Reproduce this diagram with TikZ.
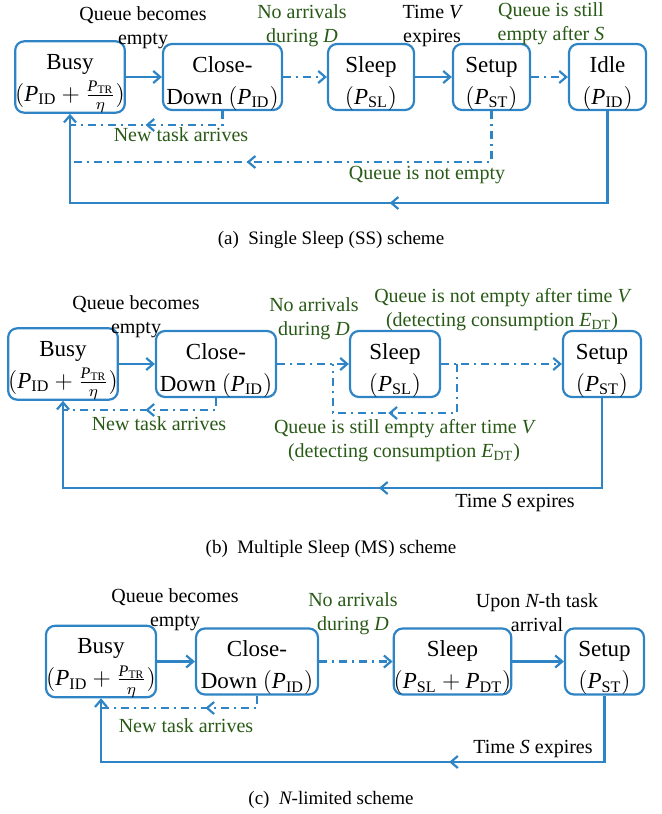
\documentclass[tikz,border=0pt]{standalone}
\usepackage{fontspec}
\setmainfont{Liberation Serif}
\usetikzlibrary{arrows.meta,decorations.markings}
\definecolor{lblue}{RGB}{46,132,196}
\definecolor{dgreen}{RGB}{40,90,22}
\newcommand\Pw[1]{\mathit{P}_{\mathrm{#1}}}
\newcommand\mv[1]{$\mathit{#1}$}
\newcommand\bst{\rule{0pt}{14pt}}
\tikzset{
  box/.style={draw=lblue, line width=1.1pt, rounded corners=4.5pt, align=center,
    inner sep=0pt, font=\fontsize{11.5}{16}\selectfont, minimum height=31pt},
  lbl/.style={align=center, font=\fontsize{10}{12}\selectfont, inner sep=0pt},
  glbl/.style={lbl, text=dgreen},
  captxt/.style={font=\fontsize{9.5}{11}\selectfont, inner sep=0pt},
  endarr/.style={-{Straight Barb[length=3.5pt,width=6pt]}},
  sol/.style={draw=lblue, line width=1.1pt},
  dd/.style={draw=lblue, line width=1.1pt, dash pattern=on 4pt off 2.5pt on 1pt off 2.5pt},
  marr/.style={postaction={decorate, decoration={markings,
    mark=at position #1 with {\arrow[lblue,line width=1.1pt]{Straight Barb[length=3.5pt,width=6pt]}}}}},
}
\begin{document}
\begin{tikzpicture}[x=0.5pt,y=-0.5pt]
\useasboundingbox (0,0) rectangle (662,814);

% ---------------- (a) ----------------
\node[box, minimum width=53pt]   (a1) at (70,77)    {\bst Busy\\$(\Pw{ID}+\frac{\Pw{TR}}{\eta})$};
\node[box, minimum width=59.5pt] (a2) at (222.5,77) {\bst Close-\\Down $(\Pw{ID})$};
\node[box, minimum width=43pt]   (a3) at (371,77)   {\bst Sleep\\$(\Pw{SL})$};
\node[box, minimum width=38.5pt] (a4) at (491.5,77) {\bst Setup\\$(\Pw{ST})$};
\node[box, minimum width=38.5pt] (a5) at (607.5,77) {\bst Idle\\$(\Pw{ID})$};

\node[lbl]  (la1) at (143,28) {Queue becomes\\empty};
\node[glbl] (la2) at (302,26)   {No arrivals\\during \mv{D}};
\node[lbl]  (la3) at (432,26.5) {Time \mv{V}\\expires};
\node[glbl] (la4) at (551,23.5) {Queue is still\\empty after \mv{S}};
\node[glbl] (la5) at (181,135)  {New task arrives};
\node[glbl] (la6) at (427,175)  {Queue is not empty};

\coordinate (ya1) at (0,125);
\coordinate (ya2) at (0,162);
\coordinate (ya3) at (0,203);

\draw[sol, endarr] (a1) -- (a2);
\draw[dd, endarr]  (a2) -- (a3);
\draw[sol, endarr] (a3) -- (a4);
\draw[dd, endarr]  (a4) -- (a5);
\draw[dd, marr=0.546] (a2.south) |- (a1.south |- ya1);
\draw[dd, marr=0.626] (a4.south) |- (a1.south |- ya2);
\draw[sol, endarr, marr=0.431] (a5.south) -- (a5.south |- ya3) -- (a1.south |- ya3) -- (a1.south);

\node[captxt] (ca) at (331,240) {(a)\ \ Single Sleep (SS) scheme};

% ---------------- (b) ----------------
\node[box, minimum width=54pt] (b1) at (63,364)  {\bst Busy\\$(\Pw{ID}+\frac{\Pw{TR}}{\eta})$};
\node[box, minimum width=60pt] (b2) at (216,364) {\bst Close-\\Down $(\Pw{ID})$};
\node[box, minimum width=45pt] (b3) at (395,364) {\bst Sleep\\$(\Pw{SL})$};
\node[box, minimum width=39pt] (b4) at (602,364) {\bst Setup\\$(\Pw{ST})$};

\node[lbl]  (lb1) at (136,317) {Queue becomes\\empty};
\node[glbl] (lb2) at (314,319)   {No arrivals\\during \mv{D}};
\node[glbl] (lb3) at (502,309.5) {Queue is not empty after time \mv{V}\\(detecting consumption $\mathit{E}_{\mathrm{DT}}$)};
\node[glbl] (lb4) at (159,424)   {New task arrives};
\node[glbl] (lb5) at (404,440.5) {Queue is still empty after time \mv{V}\\(detecting consumption $\mathit{E}_{\mathrm{DT}}$)};
\node[lbl]  (lb6) at (515,503)   {Time \mv{S} expires};

\coordinate (b3r) at (457,364);
\coordinate (b2r) at (333,364);
\coordinate (yb1) at (0,410);
\coordinate (yb2) at (0,413);
\coordinate (yb3) at (0,488);

\draw[sol, endarr] (b1) -- (b2);
\draw[dd, endarr]  (b2) -- (b3);
\draw[dd, endarr]  (b3) -- (b4);
\draw[dd, marr=0.53] (b3r) -- (b3r |- yb2) -- (b2r |- yb2) -- (b2r);
\draw[dd, marr=0.5] (b2.south) |- (b1.south |- yb1);
\draw[sol, endarr, marr=0.437] (b4.south) -- (b4.south |- yb3) -- (b1.south |- yb3) -- (b1.south);

\node[captxt] (cb) at (331,549) {(b)\ \ Multiple Sleep (MS) scheme};

% ---------------- (c) ----------------
\node[box, minimum width=55pt, minimum height=31.5pt]   (c1) at (101,661.5)   {\bst Busy\\$(\Pw{ID}+\frac{\Pw{TR}}{\eta})$};
\node[box, minimum width=61pt, minimum height=31.5pt]   (c2) at (257,661.5)   {\bst Close-\\Down $(\Pw{ID})$};
\node[box, minimum width=58.5pt, minimum height=31.5pt] (c3) at (452.5,661.5) {\bst Sleep\\$(\Pw{SL}+\Pw{DT})$};
\node[box, minimum width=39.5pt, minimum height=31.5pt] (c4) at (604.5,661.5) {\bst Setup\\$(\Pw{ST})$};

\node[lbl]  (lc1) at (175,610) {Queue becomes\\empty};
\node[glbl] (lc2) at (353,614)   {No arrivals\\during \mv{D}};
\node[lbl]  (lc3) at (537,613)   {Upon \mv{N}-th task\\arrival};
\node[glbl] (lc4) at (186,726)   {New task arrives};
\node[lbl]  (lc5) at (533,749)   {Time \mv{S} expires};

\coordinate (yc1) at (0,708);
\coordinate (yc2) at (0,762);

\draw[sol, endarr] (c1) -- (c2);
\draw[dd, endarr]  (c2) -- (c3);
\draw[sol, endarr] (c3) -- (c4);
\draw[dd, marr=0.38] (c2.south) |- (c1.south |- yc1);
\draw[sol, endarr, marr=0.35] (c4.south) -- (c4.south |- yc2) -- (c1.south |- yc2) -- (c1.south);

\node[captxt] (cc) at (331,800) {(c)\ \ \mv{N}-limited scheme};
\end{tikzpicture}
\end{document}
